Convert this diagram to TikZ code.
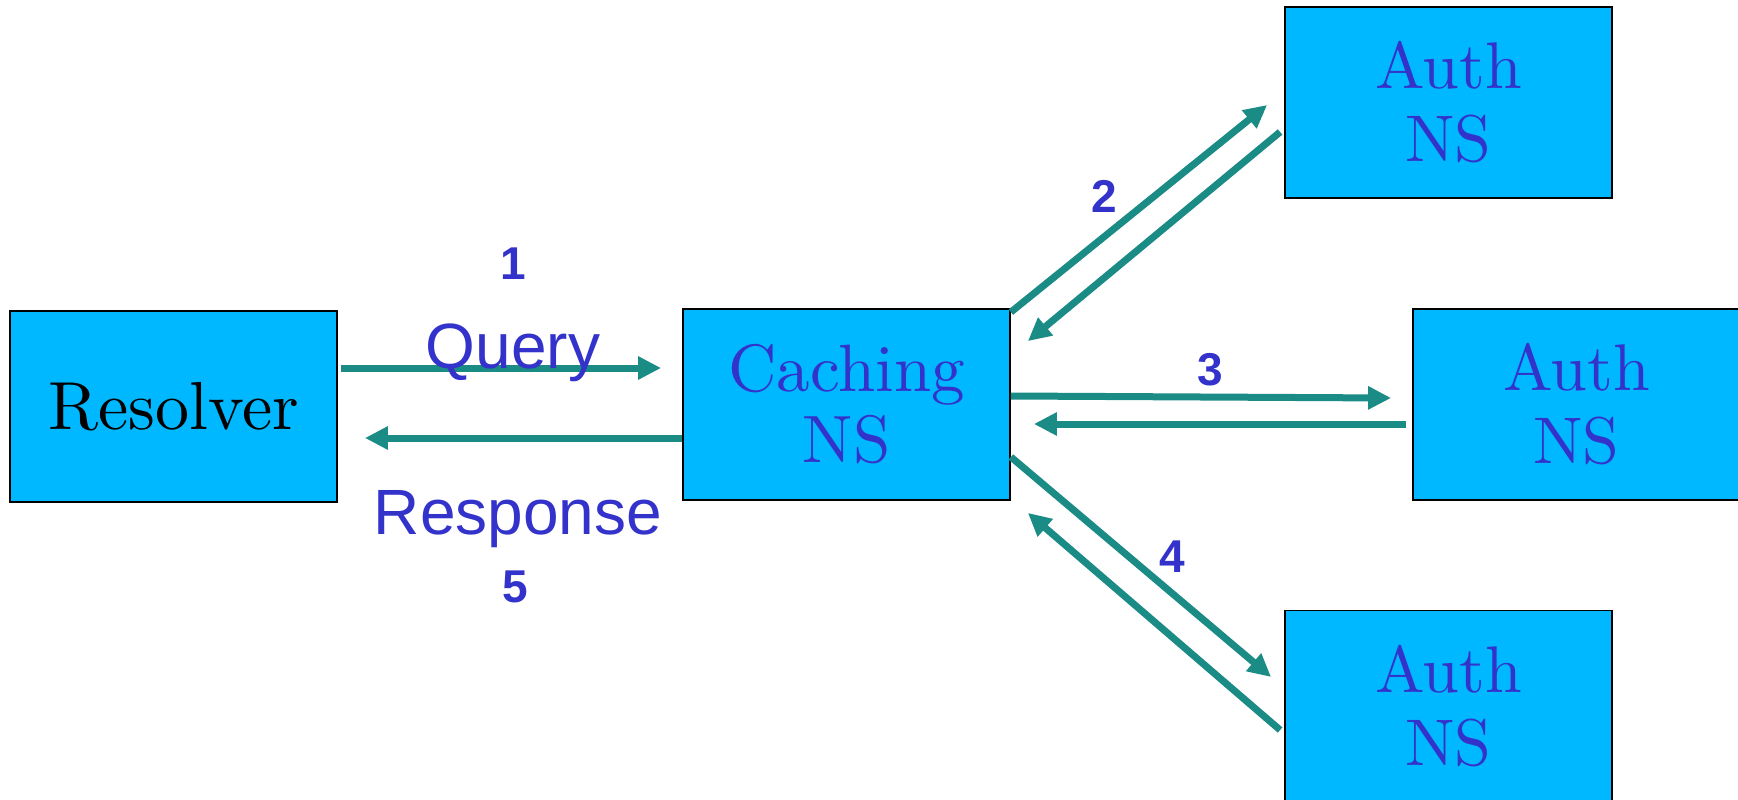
\documentclass[tikz,border=0pt]{standalone}
\usepackage{fontspec}
\setsansfont{Liberation Sans}
\newfontfamily\cmten{lmroman10-regular}[Extension=.otf]
\usetikzlibrary{arrows.meta}
\definecolor{boxblue}{RGB}{0,184,255}
\definecolor{arrowteal}{RGB}{27,139,134}
\definecolor{txtblue}{RGB}{51,51,204}
\begin{document}
\begin{tikzpicture}[x=1pt,y=-1pt,
  box/.style={draw=black, line width=1.8pt, fill=boxblue, minimum width=327pt,
    minimum height=191pt, inner sep=0pt, align=center, text=txtblue},
  arr/.style={draw=arrowteal, line width=7pt, -{Triangle[length=23pt,width=22pt]}},
  lbl/.style={text=txtblue, font=\sffamily\fontsize{64}{64}\selectfont, inner sep=0pt},
  num/.style={text=txtblue, font=\sffamily\bfseries\fontsize{46}{46}\selectfont, inner sep=0pt}]
\clip (0,0) rectangle (1738,800);
\fill[white] (0,0) rectangle (1738,800);
\node[box, text=black, font=\cmten\fontsize{68}{72}\selectfont] (res) at (173.5,406.5) {Resolver};
\node[box, font=\cmten\fontsize{67}{71}\selectfont] (cach) at (846.5,404.5) {Caching\\NS};
\node[box, font=\cmten\fontsize{66}{73}\selectfont] (auth1) at (1448.5,102.5) {Auth\\NS};
\node[box, font=\cmten\fontsize{66}{73}\selectfont] (auth2) at (1576.5,404.5) {Auth\\NS};
\node[box, font=\cmten\fontsize{66}{73}\selectfont] (auth3) at (1448.5,706) {Auth\\NS};
% 1 / 5
\draw[arr] ([shift={(3,-38.5)}]res.east) -- ([shift={(-21,-36.5)}]cach.west);
\draw[arr] ([shift={(0,33.5)}]cach.west) -- ([shift={(27,31.5)}]res.east);
% 2
\draw[arr] ([shift={(0,4)}]cach.north east) -- ([shift={(-17,2.5)}]auth1.west);
\draw[arr] ([shift={(-4,29.5)}]auth1.west) -- ([shift={(17,33)}]cach.north east);
% 3
\draw[arr] ([shift={(0,-8.5)}]cach.east) -- ([shift={(-21,-6.5)}]auth2.west);
\draw[arr] ([shift={(-6,19.5)}]auth2.west) -- ([shift={(23,19.5)}]cach.east);
% 4
\draw[arr] ([shift={(0,52.5)}]cach.east) -- ([shift={(-13,-29)}]auth3.west);
\draw[arr] ([shift={(-4,24)}]auth3.west) -- ([shift={(17,12)}]cach.south east);
% labels
\node[num] (n1) at (513,264) {1};
\node[lbl, anchor=base] (q) at (513,368) {Query};
\node[lbl, anchor=base] (r) at (518,534) {Response};
\node[num] (n5) at (515,587) {5};
\node[num] (n2) at (1104,196) {2};
\node[num] (n3) at (1210,370) {3};
\node[num] (n4) at (1172,557) {4};
\end{tikzpicture}
\end{document}
